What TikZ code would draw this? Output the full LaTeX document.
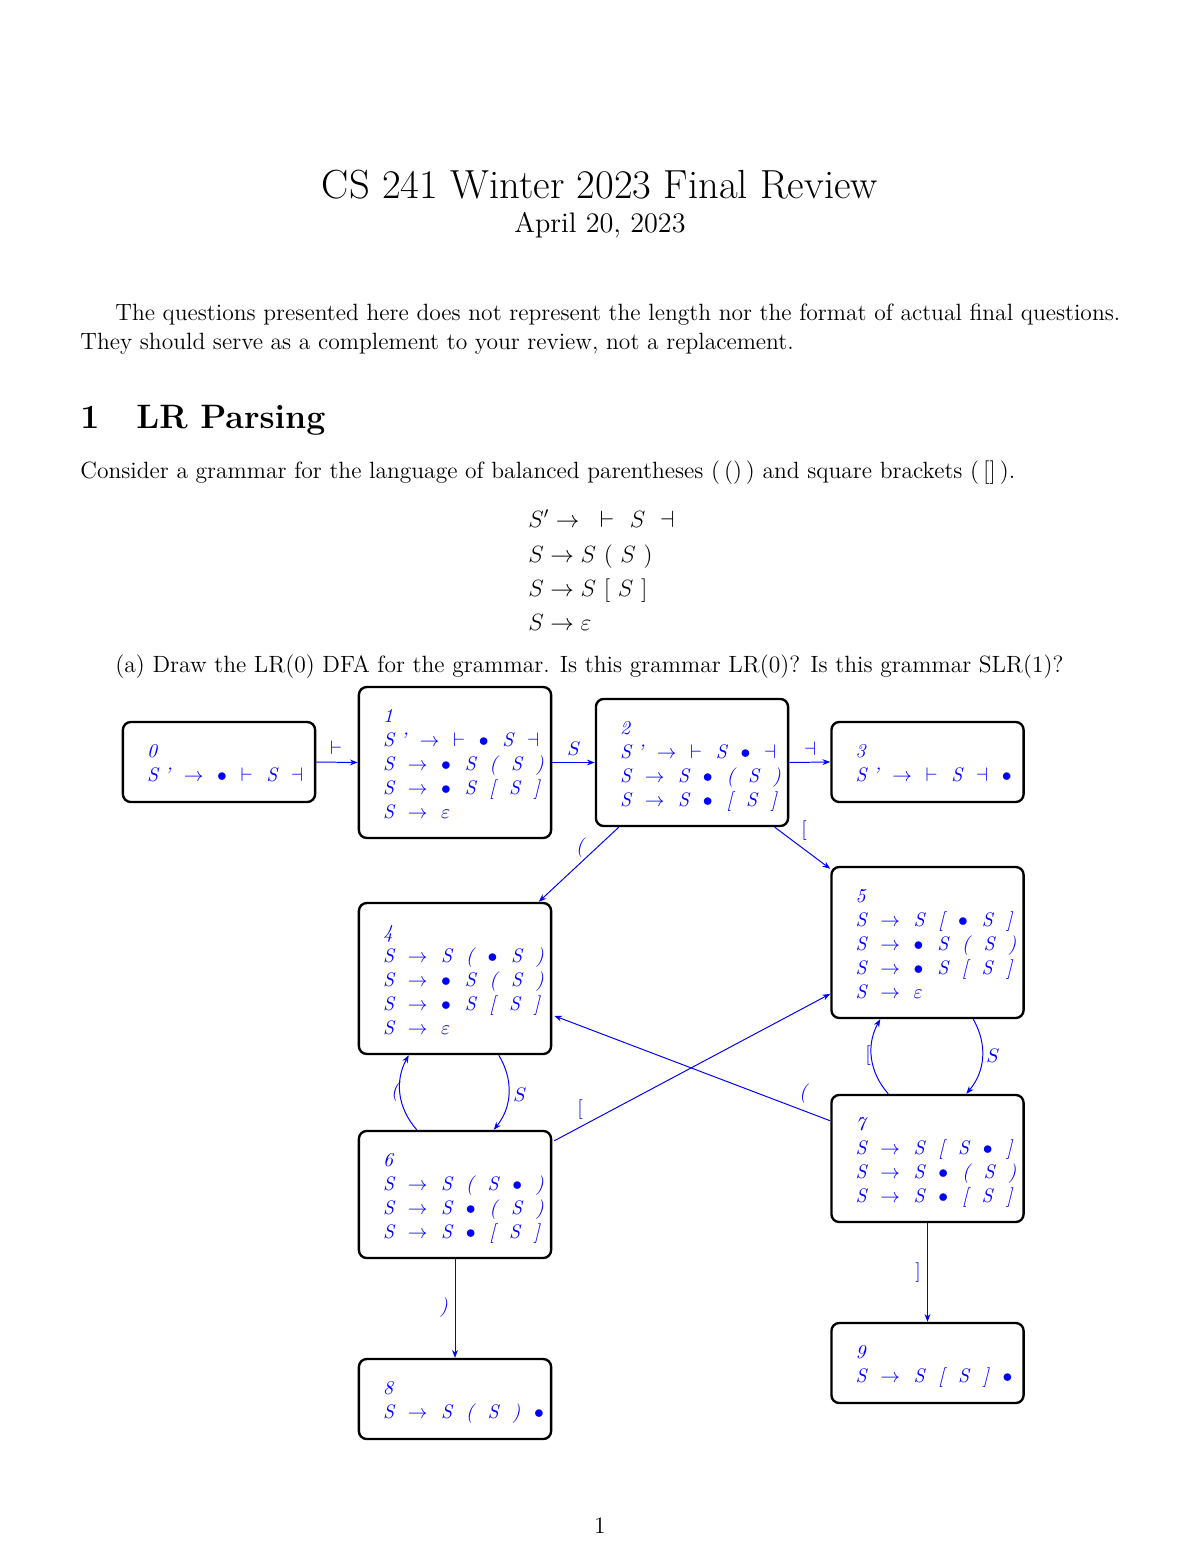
\documentclass[tikz,border=0pt]{standalone}
\usetikzlibrary{arrows.meta,calc}
\newcommand\gp{\hspace{7pt}}
\newcommand\Tar{$\rightarrow$}
\newcommand\Tbu{$\bullet$}
\newcommand\Tvd{$\vdash$}
\newcommand\Tdv{$\dashv$}
\newcommand\Tep{$\varepsilon$}
\newcommand\Sp{S\hspace{3pt}'}
\tikzset{
  x=0.51pt, y=-0.51pt,
  state/.style={draw=black, line width=1.2pt, rounded corners=4pt, minimum width=98pt, inner sep=0pt},
  stxt/.style={anchor=base west, inner sep=0pt, text=blue, font=\fontsize{10}{12.24}\selectfont\itshape},
  edge/.style={draw=blue, line width=0.5pt, -{Stealth[length=4pt,width=3pt]}},
  lbl/.style={text=blue, inner sep=0pt, font=\fontsize{10}{12}\selectfont},
  body/.style={anchor=base west, inner sep=0pt, font=\fontsize{12}{14.5}\selectfont},
}
\begin{document}
\begin{tikzpicture}
\useasboundingbox (0,0) rectangle (1200,1553);
% header text
\node[anchor=base, inner sep=0pt, font=\fontsize{20.74}{25}\selectfont] (title) at (600,199) {CS 241 Winter 2023 Final Review};
\node[anchor=base, inner sep=0pt, font=\fontsize{14.4}{18}\selectfont] (date) at (600,233) {April 20, 2023};
\node[body] (p1) at (115,320) {\makebox[512.5pt][s]{The questions presented here does not represent the length nor the format of actual final questions.}};
\node[body] (p2) at (80,349) {They should serve as a complement to your review, not a replacement.};
\node[body, font=\fontsize{17.28}{21}\selectfont\bfseries] (secn) at (80,428) {1};
\node[body, font=\fontsize{17.28}{21}\selectfont\bfseries] (sect) at (136,428) {LR Parsing};
\node[body] (cons) at (80,478) {Consider a grammar for the language of balanced parentheses (\,()\,) and square brackets (\,[]\,).};
\node[body] (g1) at (528,527) {$S'\rightarrow\hspace{7pt}{\vdash}\hspace{8pt}S\hspace{7.5pt}{\dashv}$};
\node[body] (g2) at (528,562) {$S\rightarrow S\ (\ S\ )$};
\node[body] (g3) at (528,596) {$S\rightarrow S\ [\ S\ ]$};
\node[body] (g4) at (528,630) {$S\rightarrow\varepsilon$};
\node[body] (qa) at (115,672) {(a) Draw the LR(0) DFA for the grammar. Is this grammar LR(0)? Is this grammar SLR(1)?};
\node[anchor=base, inner sep=0pt, font=\fontsize{12}{14.5}\selectfont] (pg) at (600,1533) {1};

% state boxes
\node[state, minimum height=40.8pt] (s0) at (219,762) {};
\node[state, minimum height=77pt]   (s1) at (455,762.5) {};
\node[state, minimum height=64.8pt] (s2) at (692,762.5) {};
\node[state, minimum height=40.8pt] (s3) at (927.5,762) {};
\node[state, minimum height=77pt]   (s4) at (455,978.5) {};
\node[state, minimum height=77pt]   (s5) at (927.5,942.5) {};
\node[state, minimum height=64.8pt] (s6) at (455,1194.5) {};
\node[state, minimum height=64.8pt] (s7) at (927.5,1158.5) {};
\node[state, minimum height=40.8pt] (s8) at (455,1399) {};
\node[state, minimum height=40.8pt] (s9) at (927.5,1363) {};

% state contents
\node[stxt] (t0) at ($(s0.north west)+(25,36.5)$) {\begin{tabular}[t]{@{}l@{}}0\\
\Sp\gp\Tar\gp\Tbu\gp\Tvd\gp S\gp\Tdv\end{tabular}};
\node[stxt] (t1) at ($(s1.north west)+(25,36.5)$) {\begin{tabular}[t]{@{}l@{}}1\\
\Sp\gp\Tar\gp\Tvd\gp\Tbu\gp S\gp\Tdv\\
S\gp\Tar\gp\Tbu\gp S\gp(\gp S\gp)\\
S\gp\Tar\gp\Tbu\gp S\gp[\gp S\gp]\\
S\gp\Tar\gp\Tep\end{tabular}};
\node[stxt] (t2) at ($(s2.north west)+(25,36.5)$) {\begin{tabular}[t]{@{}l@{}}2\\
\Sp\gp\Tar\gp\Tvd\gp S\gp\Tbu\gp\Tdv\\
S\gp\Tar\gp S\gp\Tbu\gp(\gp S\gp)\\
S\gp\Tar\gp S\gp\Tbu\gp[\gp S\gp]\end{tabular}};
\node[stxt] (t3) at ($(s3.north west)+(25,36.5)$) {\begin{tabular}[t]{@{}l@{}}3\\
\Sp\gp\Tar\gp\Tvd\gp S\gp\Tdv\gp\Tbu\end{tabular}};
\node[stxt] (t4) at ($(s4.north west)+(25,36.5)$) {\begin{tabular}[t]{@{}l@{}}4\\
S\gp\Tar\gp S\gp(\gp\Tbu\gp S\gp)\\
S\gp\Tar\gp\Tbu\gp S\gp(\gp S\gp)\\
S\gp\Tar\gp\Tbu\gp S\gp[\gp S\gp]\\
S\gp\Tar\gp\Tep\end{tabular}};
\node[stxt] (t5) at ($(s5.north west)+(25,36.5)$) {\begin{tabular}[t]{@{}l@{}}5\\
S\gp\Tar\gp S\gp[\gp\Tbu\gp S\gp]\\
S\gp\Tar\gp\Tbu\gp S\gp(\gp S\gp)\\
S\gp\Tar\gp\Tbu\gp S\gp[\gp S\gp]\\
S\gp\Tar\gp\Tep\end{tabular}};
\node[stxt] (t6) at ($(s6.north west)+(25,36.5)$) {\begin{tabular}[t]{@{}l@{}}6\\
S\gp\Tar\gp S\gp(\gp S\gp\Tbu\gp)\\
S\gp\Tar\gp S\gp\Tbu\gp(\gp S\gp)\\
S\gp\Tar\gp S\gp\Tbu\gp[\gp S\gp]\end{tabular}};
\node[stxt] (t7) at ($(s7.north west)+(25,36.5)$) {\begin{tabular}[t]{@{}l@{}}7\\
S\gp\Tar\gp S\gp[\gp S\gp\Tbu\gp]\\
S\gp\Tar\gp S\gp\Tbu\gp(\gp S\gp)\\
S\gp\Tar\gp S\gp\Tbu\gp[\gp S\gp]\end{tabular}};
\node[stxt] (t8) at ($(s8.north west)+(25,36.5)$) {\begin{tabular}[t]{@{}l@{}}8\\
S\gp\Tar\gp S\gp(\gp S\gp)\gp\Tbu\end{tabular}};
\node[stxt] (t9) at ($(s9.north west)+(25,36.5)$) {\begin{tabular}[t]{@{}l@{}}9\\
S\gp\Tar\gp S\gp[\gp S\gp]\gp\Tbu\end{tabular}};

% transitions
\draw[edge] (s0.east) -- (s1.west);
\draw[edge] (s1.east) -- (s2.west);
\draw[edge] (s2.east) -- (s3.west);
\draw[edge] ($(s2.south west)+(24,0)$) -- ($(s4.north west)+(181,0)$);
\draw[edge] ($(s2.south west)+(180,0)$) -- ($(s5.north west)+(0,3)$);
\draw[edge] ($(s6.north west)+(59,0)$) to[bend left=35] ($(s4.south west)+(51,0)$);
\draw[edge] ($(s4.south west)+(141,0)$) to[bend left=35] ($(s6.north west)+(136,0)$);
\draw[edge] ($(s6.north east)+(2,11)$) -- ($(s5.north west)+(0,128)$);
\draw[edge] ($(s7.north west)+(0,27)$) -- ($(s4.north east)+(2,114)$);
\draw[edge] ($(s7.north west)+(58,0)$) to[bend left=35] ($(s5.south west)+(50,0)$);
\draw[edge] ($(s5.south west)+(143,0)$) to[bend left=35] ($(s7.north west)+(136,0)$);
\draw[edge] (s6.south) -- (s8.north);
\draw[edge] (s7.south) -- (s9.north);

% transition labels
\node[lbl] (l01) at (336,748) {$\vdash$};
\node[lbl] (l12) at (574,749) {$S$};
\node[lbl] (l23) at (810,749) {$\dashv$};
\node[lbl] (l24) at (580,848) {\itshape (};
\node[lbl] (l25) at (804,831) {[};
\node[lbl] (l64) at (395,1092) {\itshape (};
\node[lbl] (l46) at (520,1095) {$S$};
\node[lbl] (l65) at (580,1110) {[};
\node[lbl] (l74) at (803,1094) {\itshape (};
\node[lbl] (l75) at (868,1056) {[};
\node[lbl] (l57) at (993,1056) {$S$};
\node[lbl] (l68) at (444,1308) {\itshape )};
\node[lbl] (l79) at (918,1273) {]};
\end{tikzpicture}
\end{document}
